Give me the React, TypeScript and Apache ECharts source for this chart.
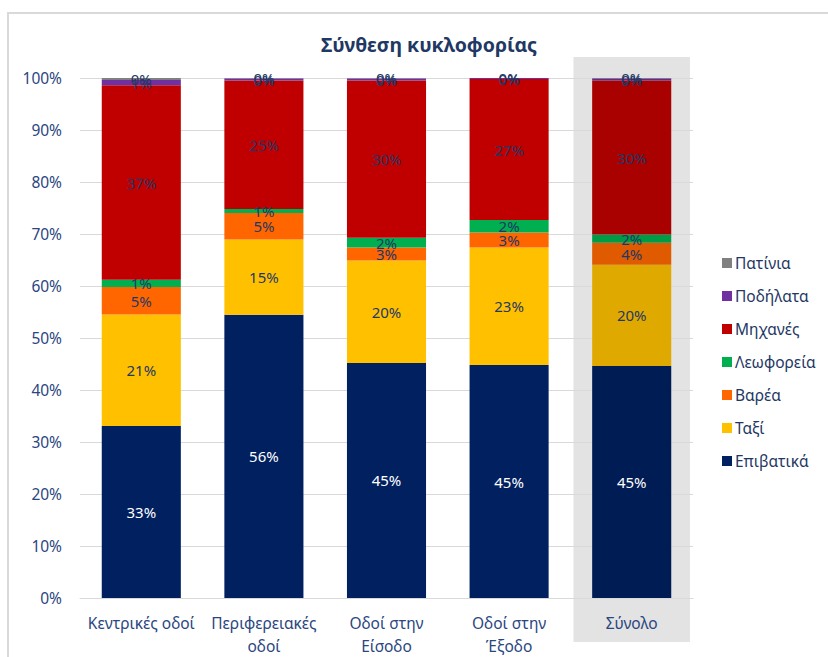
import React, { useEffect, useRef } from "react";
import * as echarts from "echarts";

const categories = ["Κεντρικές οδοί", "Περιφερειακές\nοδοί", "Οδοί στην\nΕίσοδο", "Οδοί στην\nΈξοδο", "Σύνολο"];
const seriesNames = ["Επιβατικά", "Ταξί", "Βαρέα", "Λεωφορεία", "Μηχανές", "Ποδήλατα", "Πατίνια"];
const epivatika = [33.1, 55.6, 45.2, 44.8, 44.6];
const taxi = [21.4, 14.8, 19.7, 22.6, 19.5];
const varea = [5.3, 5.2, 2.5, 2.9, 4.2];
const leoforeia = [1.4, 0.8, 1.9, 2.4, 1.6];
const mixanes = [37.4, 25.2, 30.2, 27.1, 29.6];
const podilata = [1.0, 0.4, 0.4, 0.2, 0.4];
const patinia = [0.4, 0.1, 0.1, 0.0, 0.1];
const yTicks = [0, 10, 20, 30, 40, 50, 60, 70, 80, 90, 100];

const raw = [epivatika, taxi, varea, leoforeia, mixanes, podilata, patinia];
const colors = ["#002060", "#FFC000", "#FF6600", "#00B050", "#C00000", "#7030A0", "#808080"];
const totalIndex = 4;

function darken(hex: string, f: number) {
  const n = parseInt(hex.slice(1), 16);
  const r = Math.round(((n >> 16) & 255) * f);
  const g = Math.round(((n >> 8) & 255) * f);
  const b = Math.round((n & 255) * f);
  return "#" + [r, g, b].map((v) => v.toString(16).padStart(2, "0")).join("");
}

const FONT = "'Noto Sans', 'Open Sans', sans-serif";
const TEXT = "#1F3864";
const AXIS_TEXT = "#2A4680";

export default function App() {
  const ref = useRef<HTMLDivElement>(null);
  useEffect(() => {
    if (!ref.current) return;
    const chart = echarts.init(ref.current, null, { renderer: "svg" });
    const totals = categories.map((_, i) => raw.reduce((s, arr) => s + arr[i], 0));
    const series = seriesNames.map((name, si) => ({
      name,
      type: "bar",
      stack: "total",
      barWidth: "64.5%",
      itemStyle: { color: colors[si] },
      label: {
        show: true,
        position: "inside",
        fontFamily: FONT,
        fontSize: 15,
        color: si === 0 ? "#FFFFFF" : TEXT,
        formatter: (p: any) => Math.round(raw[si][p.dataIndex]) + "%",
      },
      data: raw[si].map((v, i) => ({
        value: (v / totals[i]) * 100,
        itemStyle: i === totalIndex ? { color: darken(colors[si], 0.88) } : undefined,
      })),
    }));
    chart.setOption({
      animation: false,
      textStyle: { fontFamily: FONT },
      title: {
        text: "Σύνθεση κυκλοφορίας",
        left: 424,
        textAlign: "center",
        top: 29,
        textStyle: { fontFamily: FONT, fontSize: 19.5, fontWeight: "bold", color: TEXT },
      },
      legend: {
        orient: "vertical",
        left: 717,
        top: 249,
        itemWidth: 10,
        itemHeight: 10,
        itemGap: 15,
        icon: "rect",
        data: [...seriesNames].reverse(),
        textStyle: { fontFamily: FONT, fontSize: 15.5, color: TEXT, lineHeight: 18, padding: [0, 0, 0, -2] },
      },
      grid: { left: 80, right: 135, top: 78, bottom: 59 },
      xAxis: {
        type: "category",
        data: categories,
        axisLine: { lineStyle: { color: "#D9D9D9" } },
        axisTick: { show: false },
        axisLabel: { fontFamily: FONT, fontSize: 15.5, color: AXIS_TEXT, margin: 13, lineHeight: 23, interval: 0 },
      },
      yAxis: {
        type: "value",
        min: yTicks[0],
        max: yTicks[yTicks.length - 1],
        interval: 10,
        axisLine: { show: false },
        axisTick: { show: false },
        splitLine: { lineStyle: { color: "#D9D9D9", width: 1 } },
        axisLabel: { fontFamily: FONT, fontSize: 15.5, color: AXIS_TEXT, margin: 18, formatter: (v: number) => v + "%" },
      },
      series,
    });
    const cx = chart.convertToPixel({ xAxisIndex: 0 }, categories[totalIndex]) as number;
    const cxPrev = chart.convertToPixel({ xAxisIndex: 0 }, categories[totalIndex - 1]) as number;
    const step = cx - cxPrev;
    const yTop = chart.convertToPixel({ yAxisIndex: 0 }, 100) as number;
    const yBot = chart.convertToPixel({ yAxisIndex: 0 }, 0) as number;
    const w = step * 0.95;
    chart.setOption({
      graphic: [
        {
          type: "rect",
          z: -10,
          silent: true,
          shape: { x: cx - w / 2, y: yTop - 21, width: w, height: yBot - yTop + 65 },
          style: { fill: "#E3E3E3" },
        },
        {
          type: "rect",
          z: -10,
          silent: true,
          shape: { x: 8, y: 13, width: 900, height: 700 },
          style: { fill: "none", stroke: "#D9D9D9", lineWidth: 2 },
        },
      ],
    });
    return () => chart.dispose();
  }, []);
  return <div ref={ref} style={{ position: "absolute", left: 0, top: 0, width: 828, height: 657 }} />;
}
